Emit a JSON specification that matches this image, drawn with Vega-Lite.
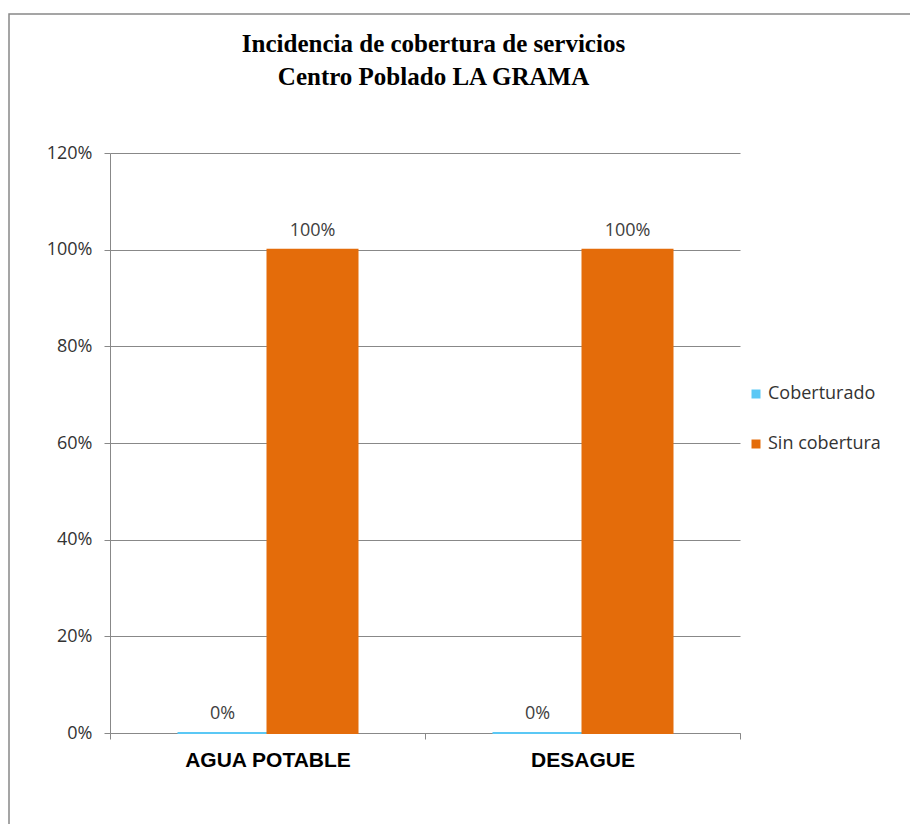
{
  "$schema": "https://vega.github.io/schema/vega-lite/v6.json",
  "autosize": {"type": "none"},
  "width": 901,
  "height": 810,
  "padding": {"left": 9, "top": 14, "right": 0, "bottom": 0},
  "background": "white",
  "title": {
    "text": ["Incidencia de cobertura de servicios", "Centro Poblado LA GRAMA"],
    "font": "Liberation Serif",
    "fontSize": 25,
    "fontWeight": "bold",
    "color": "#000000",
    "lineHeight": 33,
    "anchor": "middle",
    "frame": "group",
    "offset": -76,
    "dx": -26
  },
  "data": {
    "values": [
      {"servicio": "AGUA POTABLE", "serie": "Coberturado", "valor": 0},
      {"servicio": "AGUA POTABLE", "serie": "Sin cobertura", "valor": 1},
      {"servicio": "DESAGUE", "serie": "Coberturado", "valor": 0},
      {"servicio": "DESAGUE", "serie": "Sin cobertura", "valor": 1}
    ]
  },
  "encoding": {
    "x": {
      "field": "servicio",
      "type": "nominal",
      "sort": null,
      "scale": {"range": [101, 731], "paddingInner": 0, "paddingOuter": 0},
      "axis": {
        "title": null,
        "offset": -91,
        "labelAngle": 0,
        "domainColor": "#888888",
        "tickColor": "#888888",
        "tickSize": 6,
        "tickBand": "extent",
        "labelFont": "Liberation Sans",
        "labelFontSize": 21,
        "labelFontWeight": "bold",
        "labelColor": "#000000",
        "labelPadding": 10
      }
    },
    "xOffset": {
      "field": "serie",
      "sort": null,
      "scale": {"paddingInner": 0, "paddingOuter": 0.75}
    },
    "y": {
      "field": "valor",
      "type": "quantitative",
      "scale": {"domain": [0, 1.2], "range": [719, 139]},
      "axis": {
        "title": null,
        "values": [0, 0.2, 0.4, 0.6, 0.8, 1, 1.2],
        "format": ".0%",
        "offset": -101,
        "grid": true,
        "gridColor": "#888888",
        "domainColor": "#888888",
        "tickColor": "#888888",
        "tickSize": 6,
        "labelFont": "Open Sans",
        "labelFontSize": 18,
        "labelColor": "#333333",
        "labelPadding": 12
      }
    }
  },
  "layer": [
    {
      "mark": {"type": "bar", "strokeWidth": 2},
      "encoding": {
        "color": {
          "field": "serie",
          "type": "nominal",
          "sort": null,
          "scale": {"domain": ["Coberturado", "Sin cobertura"], "range": ["#5BC8F5", "#E46C0A"]},
          "legend": {
            "orient": "none",
            "legendX": 738,
            "legendY": 371,
            "title": null,
            "symbolType": "square",
            "symbolSize": 81,
            "symbolStrokeWidth": 0,
            "labelFont": "Open Sans",
            "labelFontSize": 18,
            "labelColor": "#333333",
            "rowPadding": 32,
            "labelOffset": 3,
            "padding": 0
          }
        },
        "stroke": {
          "field": "serie",
          "type": "nominal",
          "sort": null,
          "scale": {"domain": ["Coberturado", "Sin cobertura"], "range": ["#5BC8F5", "#E46C0A"]},
          "legend": null
        }
      }
    },
    {
      "mark": {"type": "text", "baseline": "bottom", "dy": -10, "font": "Open Sans", "fontSize": 18, "color": "#404040"},
      "encoding": {
        "text": {"field": "valor", "type": "quantitative", "format": ".0%"}
      }
    }
  ],
  "config": {
    "view": {"stroke": "#888888", "strokeWidth": 1.5, "strokeDash": [901, 1711, 812, 1]}
  }
}
